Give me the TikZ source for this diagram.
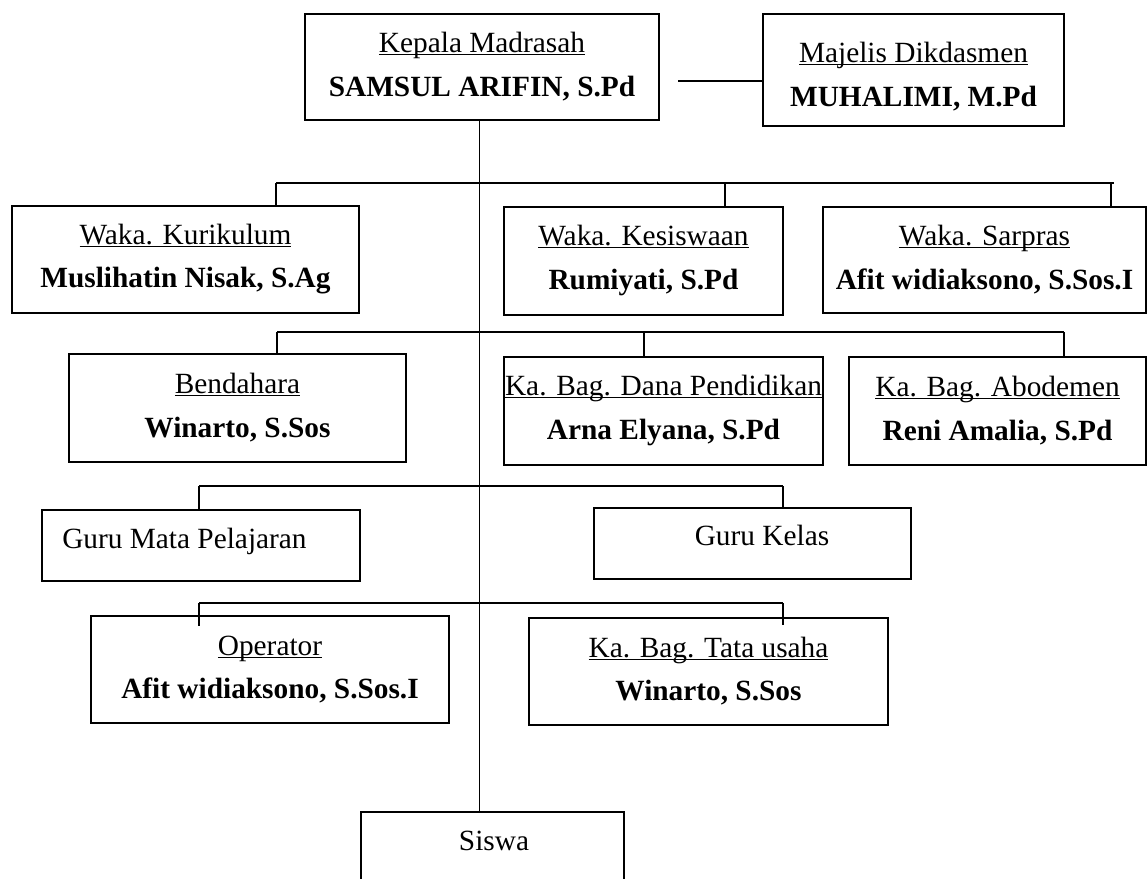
\documentclass[tikz,border=0pt]{standalone}
\usepackage{fontspec}
\setmainfont{Liberation Serif}
\newcommand{\ttl}[1]{\vphantom{A}\underline{\smash{#1}}}
\tikzset{
  box/.style={draw, line width=1.1pt, rectangle, inner sep=0pt, align=center,
    font=\fontsize{22}{32.5}\selectfont},
  txt/.style={inner sep=0pt, font=\fontsize{22}{32.5}\selectfont},
  conn/.style={line width=0.9pt},
}
\begin{document}
\begin{tikzpicture}[x=0.75pt,y=-0.75pt]
\useasboundingbox (0,0) rectangle (1148,878);
\clip (0,0) rectangle (1148,878);
% boxes
\node[box, minimum width=265.5pt, minimum height=79.5pt] (kep) at (482,67) {\ttl{Kepala Madrasah}\\\textbf{SAMSUL ARIFIN, S.Pd}};
\node[box, minimum width=225.75pt, minimum height=84pt] (maj) at (913.5,70) {\rule{0pt}{25pt}\ttl{Majelis Dikdasmen}\\\textbf{MUHALIMI, M.Pd}};
\node[box, minimum width=260.25pt, minimum height=80.25pt] (kur) at (185.5,259.5) {\ttl{Waka. Kurikulum}\\\textbf{Muslihatin Nisak, S.Ag}};
\node[box, minimum width=209.25pt, minimum height=81pt] (kes) at (643.5,261) {\ttl{Waka. Kesiswaan}\\\textbf{Rumiyati, S.Pd}};
\node[box, minimum width=242.25pt, minimum height=79.5pt] (sar) at (984.5,260) {\ttl{Waka. Sarpras}\\\textbf{Afit widiaksono, S.Sos.I}};
\node[box, minimum width=252.75pt, minimum height=81pt] (ben) at (237.5,408) {\ttl{Bendahara}\\\textbf{Winarto, S.Sos}};
\node[box, minimum width=239.25pt, minimum height=81pt] (dan) at (663.5,411) {\ttl{Ka. Bag. Dana Pendidikan}\\\textbf{Arna Elyana, S.Pd}};
\node[box, minimum width=222.75pt, minimum height=81pt] (abo) at (997.5,411) {\ttl{Ka. Bag. Abodemen}\\\textbf{Reni Amalia, S.Pd}};
\node[box, minimum width=238.5pt, minimum height=53.25pt] (gmp) at (201,545.5) {};
\node[txt, anchor=base west] (gmpt) at (62,548) {Guru Mata Pelajaran};
\node[box, minimum width=237.75pt, minimum height=53.25pt] (gkl) at (752.5,543.5) {};
\node[txt, anchor=base] (gklt) at (762,545) {Guru Kelas};
\node[box, minimum width=268.5pt, minimum height=80.25pt] (opr) at (270,669.5) {\ttl{Operator}\\\textbf{Afit widiaksono, S.Sos.I}};
\node[box, minimum width=269.25pt, minimum height=80.25pt] (tu) at (708.5,671.5) {\ttl{Ka. Bag. Tata usaha}\\\textbf{Winarto, S.Sos}};
\node[box, minimum width=197.25pt, minimum height=75pt] (sis) at (492.5,862) {};
\node[txt, anchor=base] (sist) at (494,850) {Siswa};
% coordinates
\coordinate (t) at (479.5,0);
\coordinate (mj) at (678,81);
\coordinate (b1L) at (276,183);
\coordinate (b1M) at (725,183);
\coordinate (b1D) at (1111,183);
\coordinate (b1R) at (1114,183);
\coordinate (b2L) at (277,332);
\coordinate (b2M) at (644,332);
\coordinate (b2R) at (1064,332);
\coordinate (b3L) at (199,486);
\coordinate (b3R) at (783,486);
\coordinate (b4L) at (199,603);
\coordinate (b4R) at (783,603);
\coordinate (e4L) at (199,626);
\coordinate (e4R) at (783,625);
% connectors
\draw[conn] (kep.south -| t) -- (sis.north -| t);
\draw[conn] (mj) -- (mj -| maj.west);
\draw[conn] (b1L) -- (b1R);
\draw[conn] (b1L) -- (b1L |- kur.north);
\draw[conn] (b1M) -- (b1M |- kes.north);
\draw[conn] (b1D) -- (b1D |- sar.north);
\draw[conn] (b2L) -- (b2R);
\draw[conn] (b2L) -- (b2L |- ben.north);
\draw[conn] (b2M) -- (b2M |- dan.north);
\draw[conn] (b2R) -- (b2R |- abo.north);
\draw[conn] (b3L) -- (b3R);
\draw[conn] (b3L) -- (b3L |- gmp.north);
\draw[conn] (b3R) -- (b3R |- gkl.north);
\draw[conn] (b4L) -- (b4R);
\draw[conn] (b4L) -- (e4L);
\draw[conn] (b4R) -- (e4R);
\end{tikzpicture}
\end{document}
